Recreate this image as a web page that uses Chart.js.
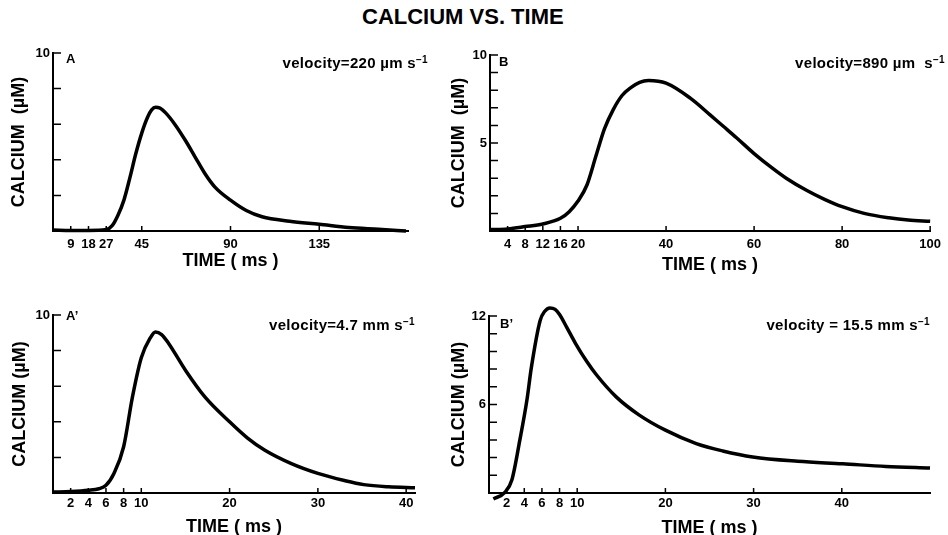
<!DOCTYPE html>
<html>
<head>
<meta charset="utf-8">
<title>Calcium vs. time</title>
<script src="https://cdn.jsdelivr.net/npm/chart.js@4.4.1/dist/chart.umd.min.js"></script>
<style>
  body {
    margin: 0;
    width: 948px;
    height: 535px;
    overflow: hidden;
    position: relative;
    background: #fff;
    color: #000;
    font-family: "Liberation Sans", Arial, sans-serif;
    font-weight: bold;
  }
  canvas { position: absolute; }
  .note { position: absolute; white-space: nowrap; line-height: 1; }
  .note sup { font-size: 10px; vertical-align: 5px; }
  .velocity { font-size: 15px; letter-spacing: 0.3px; }
  .letter { font-size: 13px; }
</style>
</head>
<body>
<div class="note" style="left:362px;top:6px;font-size:22px">CALCIUM VS. TIME</div>

<canvas id="chartA" width="430" height="252" style="left:0;top:30px"></canvas>
<canvas id="chartB" width="518" height="252" style="left:430px;top:30px"></canvas>
<canvas id="chartA2" width="430" height="260" style="left:0;top:285px"></canvas>
<canvas id="chartB2" width="518" height="260" style="left:430px;top:285px"></canvas>

<div class="note letter" style="left:66px;top:52px">A</div>
<div class="note letter" style="left:499px;top:55px">B</div>
<div class="note letter" style="left:66px;top:309px">A’</div>
<div class="note letter" style="left:500px;top:317px">B’</div>

<div class="note velocity" style="right:520px;top:55px">velocity=220 µm s<sup>−1</sup></div>
<div class="note velocity" style="right:3px;top:55px">velocity=890 µm&nbsp; s<sup>−1</sup></div>
<div class="note velocity" style="right:533px;top:317px">velocity=4.7 mm s<sup>−1</sup></div>
<div class="note velocity" style="right:18px;top:317px">velocity = 15.5 mm s<sup>−1</sup></div>

<script>
// A: 220 um/s
const timeA = [0, 9, 18, 27, 30, 33, 36, 39, 42, 45, 48, 50, 52, 54, 57, 62, 67, 72, 77, 82, 90, 98, 106, 120, 135, 150, 165, 179];
const calciumA = [0.05, 0.03, 0.03, 0.08, 0.3, 0.9, 1.75, 3.0, 4.35, 5.5, 6.4, 6.8, 6.95, 6.92, 6.65, 5.96, 5.11, 4.17, 3.23, 2.48, 1.73, 1.15, 0.8, 0.55, 0.38, 0.2, 0.1, 0.0];
const xTicksA = [9, 18, 27, 45, 90, 135];
const yTicksA = [0, 2, 4, 6, 8, 10];
const yLabelsA = [10];

// B: 890 um/s
const timeB = [0, 4, 8, 12, 16, 18, 20, 22, 24, 26, 28, 30, 32, 34, 36, 40, 45.5, 50, 53, 56, 60, 64, 67.3, 72, 76, 80, 85, 90.6, 95, 100];
const calciumB = [0.08, 0.12, 0.25, 0.4, 0.72, 1.1, 1.7, 2.6, 4.2, 5.8, 6.9, 7.7, 8.15, 8.45, 8.55, 8.4, 7.55, 6.6, 5.95, 5.3, 4.4, 3.6, 3.0, 2.3, 1.8, 1.38, 1.0, 0.75, 0.62, 0.55];
const xTicksB = [4, 8, 12, 16, 20, 40, 60, 80, 100];
const yTicksB = [0, 1, 2, 3, 4, 5, 6, 7, 8, 9, 10];
const yLabelsB = [5, 10];

// A': 4.7 mm/s
const timeA2 = [0, 2, 4, 5.2, 6, 6.9, 8, 9, 10, 11, 11.6, 12.3, 13.1, 15, 17.2, 20, 22, 24, 27, 30, 33, 35.2, 38, 41];
const calciumA2 = [0.05, 0.08, 0.15, 0.24, 0.43, 1.1, 2.6, 5.4, 7.6, 8.7, 9.05, 8.9, 8.4, 6.9, 5.4, 4.0, 3.1, 2.4, 1.65, 1.1, 0.7, 0.47, 0.35, 0.3];
const xTicksA2 = [2, 4, 6, 8, 10, 20, 30, 40];
const yTicksA2 = [0, 2, 4, 6, 8, 10];
const yLabelsA2 = [10];

// B': 15.5 mm/s
const timeB2 = [0.5, 1.8, 2.6, 3.5, 4.3, 4.8, 5.8, 6.3, 6.9, 7.5, 8.0, 8.8, 9.8, 11.05, 12.2, 14.45, 17, 20, 23.5, 26.5, 29.9, 35, 40.1, 45, 50];
const calciumB2 = [-0.4, 0.04, 0.9, 3.6, 6.3, 8.5, 11.7, 12.3, 12.55, 12.45, 12.1, 11.25, 10.15, 8.95, 8.0, 6.5, 5.3, 4.26, 3.35, 2.85, 2.44, 2.15, 1.98, 1.8, 1.69];
const xTicksB2 = [2, 4, 6, 8, 10, 20, 30, 40];
const yTicksB2 = [0, 1.2, 2.4, 3.6, 4.8, 6, 7.2, 8.4, 9.6, 10.8, 12];
const yLabelsB2 = [6, 12];

const fontFamily = '"Liberation Sans", Arial, sans-serif';
const tickFont = { family: fontFamily, size: 13, weight: "bold", lineHeight: 1 };
const titleFont = { family: fontFamily, size: 18, weight: "bold", lineHeight: 1 };

// tick marks in the original point into the plot
const inwardTicks = {
  id: "inwardTicks",
  afterDraw(chart) {
    const { ctx, chartArea, scales } = chart;
    ctx.save();
    ctx.strokeStyle = "#000";
    ctx.lineWidth = 1.5;
    ctx.beginPath();
    scales.x.ticks.forEach((t) => {
      const x = scales.x.getPixelForValue(t.value);
      ctx.moveTo(x, chartArea.bottom);
      ctx.lineTo(x, chartArea.bottom - 5);
    });
    scales.y.ticks.forEach((t) => {
      if (t.value === 0) return;
      const y = scales.y.getPixelForValue(t.value);
      ctx.moveTo(chartArea.left, y);
      ctx.lineTo(chartArea.left + 8, y);
    });
    ctx.stroke();
    ctx.restore();
  },
};

function makeChart(id, p) {
  const points = p.time.map((t, i) => ({ x: t, y: p.calcium[i] }));
  return new Chart(document.getElementById(id), {
    type: "line",
    data: {
      datasets: [
        {
          data: points,
          borderColor: "#000",
          borderWidth: 3.5,
          pointRadius: 0,
          fill: false,
          cubicInterpolationMode: "monotone",
          clip: false,
        },
      ],
    },
    options: {
      responsive: false,
      animation: false,
      layout: { padding: { left: 0, top: p.padTop, right: p.padRight, bottom: 0 } },
      plugins: { legend: { display: false }, tooltip: { enabled: false } },
      scales: {
        x: {
          type: "linear",
          min: 0,
          max: p.xMax,
          afterBuildTicks: (s) => {
            s.ticks = p.xTicks.map((v) => ({ value: v }));
          },
          afterFit: (s) => {
            s.height = p.xHeight;
          },
          grid: { display: false, drawTicks: false },
          border: { display: true, color: "#000", width: 2 },
          ticks: {
            color: "#000",
            font: tickFont,
            padding: p.xTickPad,
            maxRotation: 0,
            autoSkip: false,
            callback: (v) => String(v),
          },
          title: {
            display: true,
            text: "TIME ( ms )",
            color: "#000",
            font: titleFont,
            padding: { top: 0, bottom: p.xTitlePad },
          },
        },
        y: {
          type: "linear",
          min: 0,
          max: p.yMax,
          afterBuildTicks: (s) => {
            s.ticks = p.yTicks.map((v) => ({ value: v }));
          },
          afterFit: (s) => {
            s.width = p.yWidth;
          },
          grid: { display: false, drawTicks: false },
          border: { display: true, color: "#000", width: 2 },
          ticks: {
            color: "#000",
            font: tickFont,
            padding: 3,
            autoSkip: false,
            callback: (v) => (p.yLabels.includes(v) ? String(v) : ""),
          },
          title: {
            display: true,
            text: p.yTitle,
            color: "#000",
            font: titleFont,
            padding: { top: p.yTitlePad, bottom: 0 },
          },
        },
      },
    },
    plugins: [inwardTicks],
  });
}

makeChart("chartA", {
  time: timeA, calcium: calciumA, xTicks: xTicksA, yTicks: yTicksA, yLabels: yLabelsA,
  xMax: 180, yMax: 10, padTop: 23, padRight: 22, yWidth: 53, xHeight: 51,
  xTickPad: 7, xTitlePad: 12, yTitlePad: 10, yTitle: "CALCIUM  (µM)",
});
makeChart("chartB", {
  time: timeB, calcium: calciumB, xTicks: xTicksB, yTicks: yTicksB, yLabels: yLabelsB,
  xMax: 100, yMax: 10, padTop: 25, padRight: 16, yWidth: 60, xHeight: 51,
  xTickPad: 7, xTitlePad: 8, yTitlePad: 20, yTitle: "CALCIUM  (µM)",
});
makeChart("chartA2", {
  time: timeA2, calcium: calciumA2, xTicks: xTicksA2, yTicks: yTicksA2, yLabels: yLabelsA2,
  xMax: 41, yMax: 10, padTop: 30, padRight: 15, yWidth: 53, xHeight: 52,
  xTickPad: 4, xTitlePad: 9, yTitlePad: 11, yTitle: "CALCIUM (µM)",
});
makeChart("chartB2", {
  time: timeB2, calcium: calciumB2, xTicks: xTicksB2, yTicks: yTicksB2, yLabels: yLabelsB2,
  xMax: 50, yMax: 12, padTop: 31, padRight: 18, yWidth: 59, xHeight: 52,
  xTickPad: 4, xTitlePad: 8, yTitlePad: 20, yTitle: "CALCIUM (µM)",
});
</script>
</body>
</html>
